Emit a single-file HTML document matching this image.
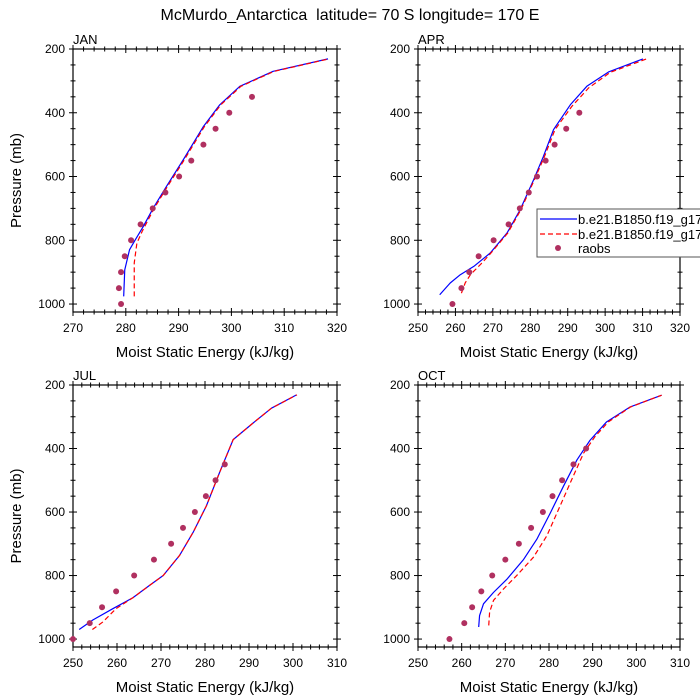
<!DOCTYPE html>
<html><head><meta charset="utf-8"><style>
body{margin:0;background:#fff}
svg{display:block;font-family:"Liberation Sans",sans-serif}
</style></head><body>
<svg id="chart" width="700" height="700" viewBox="0 0 700 700">
<rect width="700" height="700" fill="#fff"/>
<text x="350" y="20" text-anchor="middle" font-size="16" style="white-space:pre">McMurdo_Antarctica  latitude= 70 S longitude= 170 E</text>
</svg>
<script>
// JAN
const janBlueX=[279.6,279.8,280.7,281.6,283.3,285.2,287.7,290.9,294.7,297.8,301.6,307.9,318.3];
const janBlueP=[976,893,830,804,757,699,631,547,443,375,317,270,231];
const janRedX=[281.6,281.6,282.1,283.1,285.4,287.9,291.1,294.9,298.0,301.8,308.1,318.5];
const janRedP=[976,871,809,772,699,631,547,443,375,317,270,231];
const janObsX=[279.1,278.7,279.1,279.8,281.0,282.8,285.1,287.5,290.1,292.4,294.7,297.0,299.6,303.9];
const janObsP=[1000,950,900,850,800,750,700,650,600,550,500,450,400,350];
// APR
const aprBlueX=[255.8,258.6,261.3,264.9,269.3,273.8,277.3,280.9,283.5,286.2,290.7,295.1,300.9,310.1];
const aprBlueP=[971,934,908,882,840,777,704,610,537,453,375,317,272,231];
const aprRedX=[261.6,262.6,264.0,267.1,269.5,274.0,277.5,281.1,283.8,286.6,291.1,295.6,301.4,311.1];
const aprRedP=[966,934,908,871,840,777,704,610,537,453,380,322,273,231];
const aprObsX=[259.2,261.6,263.7,266.2,270.2,274.2,277.2,279.6,281.8,284.1,286.5,289.6,293.1];
const aprObsP=[1000,950,900,850,800,750,700,650,600,550,500,450,400];
// JUL
const julBlueX=[251.4,254.5,259.1,263.6,267.4,270.5,274.2,277.3,280.3,283.3,286.4,290.9,295.1,300.8];
const julBlueP=[970,940,904,870,831,800,737,664,581,476,372,320,273,231];
const julRedX=[254.4,256.8,259.8,263.6,267.4,270.5,274.2,277.3,280.3,283.3,286.4,290.9,295.1,300.9];
const julRedP=[970,946,904,870,831,800,737,664,581,476,372,320,273,231];
const julObsX=[250.0,253.8,256.6,259.8,263.9,268.4,272.3,275.0,277.7,280.2,282.4,284.5];
const julObsP=[1000,950,900,850,800,750,700,650,600,550,500,450];
// OCT
const octBlueX=[263.9,264.1,265.0,267.3,270.4,274.2,277.2,280.3,283.3,286.4,289.4,293.2,298.6,305.8];
const octBlueP=[962,926,889,853,811,749,686,603,519,436,374,316,269,232];
const octRedX=[266.2,266.4,267.3,269.6,272.6,276.4,279.5,282.5,285.2,287.9,290.5,293.6,298.7,305.8];
const octRedP=[957,915,878,842,800,743,675,582,498,415,363,316,269,232];
const octObsX=[257.2,260.6,262.4,264.5,267.0,270.0,273.1,275.9,278.6,280.8,283.0,285.6,288.5];
const octObsP=[1000,950,900,850,800,750,700,650,600,550,500,450,400];

const janTicks=[270,280,290,300,310,320];
const aprTicks=[250,260,270,280,290,300,310,320];
const julTicks=[250,260,270,280,290,300,310];
const octTicks=[250,260,270,280,290,300,310];
const pTicks=[200,400,600,800,1000];

const NS='http://www.w3.org/2000/svg';
const svg=document.getElementById('chart');
function mk(tag,attrs,parent){const e=document.createElementNS(NS,tag);for(const k in attrs)e.setAttribute(k,attrs[k]);(parent||svg).appendChild(e);return e;}

function panel(key,label,L,R,T,B,xmin,xmax,xt,yTitle,bx,bp,rx,rp,ox,op){
  const g=mk('g',{});
  
  
  const p1000=T+(B-T)*800/825;
  const sx=v=>L+(v-xmin)/(xmax-xmin)*(R-L);
  const sy=p=>T+(p-200)/800*(p1000-T);
  for(let v=xmin;v<=xmax+1e-6;v+=2){
    const major=Math.abs((v-xmin)%10)<1e-6||Math.abs((v-xmin)%10-10)<1e-6;
    const len=major?4:2.5;const x=sx(v);
    mk('line',{x1:x,x2:x,y1:B-len,y2:B+len,stroke:'#000','stroke-width':1},g);
    mk('line',{x1:x,x2:x,y1:T-len,y2:T+len,stroke:'#000','stroke-width':1},g);
  }
  for(let p=200;p<=1000;p+=50){
    const major=p%200===0;const len=major?4:2.5;const y=sy(p);
    mk('line',{x1:L-len,x2:L+len,y1:y,y2:y,stroke:'#000','stroke-width':1},g);
    mk('line',{x1:R-len,x2:R+len,y1:y,y2:y,stroke:'#000','stroke-width':1},g);
  }
  mk('rect',{x:L,y:T,width:R-L,height:B-T,fill:'none',stroke:'#000','stroke-width':1.2},g);
  xt.forEach(v=>{const t=mk('text',{x:sx(v),y:B+20,'text-anchor':'middle','font-size':12},g);t.textContent=v;
    
    });
  pTicks.forEach(p=>{const t=mk('text',{x:L-8,y:sy(p)+4,'text-anchor':'end','font-size':12},g);t.textContent=p;
    
    });
  const xtitle=mk('text',{x:(L+R)/2,y:B+45,'text-anchor':'middle','font-size':15},g);
  xtitle.textContent='Moist Static Energy (kJ/kg)';
  
  
  if(yTitle){const yt=mk('text',{x:0,y:0,'text-anchor':'middle','font-size':15,transform:`translate(21,${(T+B)/2}) rotate(-90)`},g);
    yt.textContent='Pressure (mb)';
    
    }
  const lab=mk('text',{x:L,y:T-5,'font-size':13},g);lab.textContent=label;
  
  
  const line=(xs,ps,col,dash,nm)=>{const pl=mk('polyline',{points:xs.map((v,i)=>sx(v)+','+sy(ps[i])).join(' '),fill:'none',stroke:col,'stroke-width':1.2,'stroke-linejoin':'round'},g);
    if(dash)pl.setAttribute('stroke-dasharray',dash);
    
    };
  line(bx,bp,'#0000ff','', 'model-line-1');
  line(rx,rp,'#ff0000','5,3','model-line-2');
  ox.forEach((v,i)=>{const c=mk('circle',{cx:sx(v),cy:sy(op[i]),r:3,fill:'#b03060'},g);
    
    });
}
panel('jan','JAN',73,337,49,312,270,320,janTicks,true,janBlueX,janBlueP,janRedX,janRedP,janObsX,janObsP);
panel('apr','APR',418,680,49,312,250,320,aprTicks,false,aprBlueX,aprBlueP,aprRedX,aprRedP,aprObsX,aprObsP);
panel('jul','JUL',73,337,385,647,250,310,julTicks,true,julBlueX,julBlueP,julRedX,julRedP,julObsX,julObsP);
panel('oct','OCT',418,680,385,647,250,310,octTicks,false,octBlueX,octBlueP,octRedX,octRedP,octObsX,octObsP);

const lg=mk('g',{});


mk('rect',{x:537,y:209,width:170,height:48,fill:'#fff',stroke:'#555','stroke-width':1},lg);
mk('line',{x1:540,x2:577,y1:219,y2:219,stroke:'#0000ff','stroke-width':1.2},lg);
mk('line',{x1:540,x2:577,y1:234,y2:234,stroke:'#ff0000','stroke-width':1.2,'stroke-dasharray':'5,3'},lg);
mk('circle',{cx:558,cy:248,r:3,fill:'#b03060'},lg);
[['b.e21.B1850.f19_g17',224],['b.e21.B1850.f19_g17',239],['raobs',253]].forEach(([t,y])=>{
  const e=mk('text',{x:578,y:y,'font-size':13},lg);e.textContent=t;
  
  });
</script>
</body></html>
